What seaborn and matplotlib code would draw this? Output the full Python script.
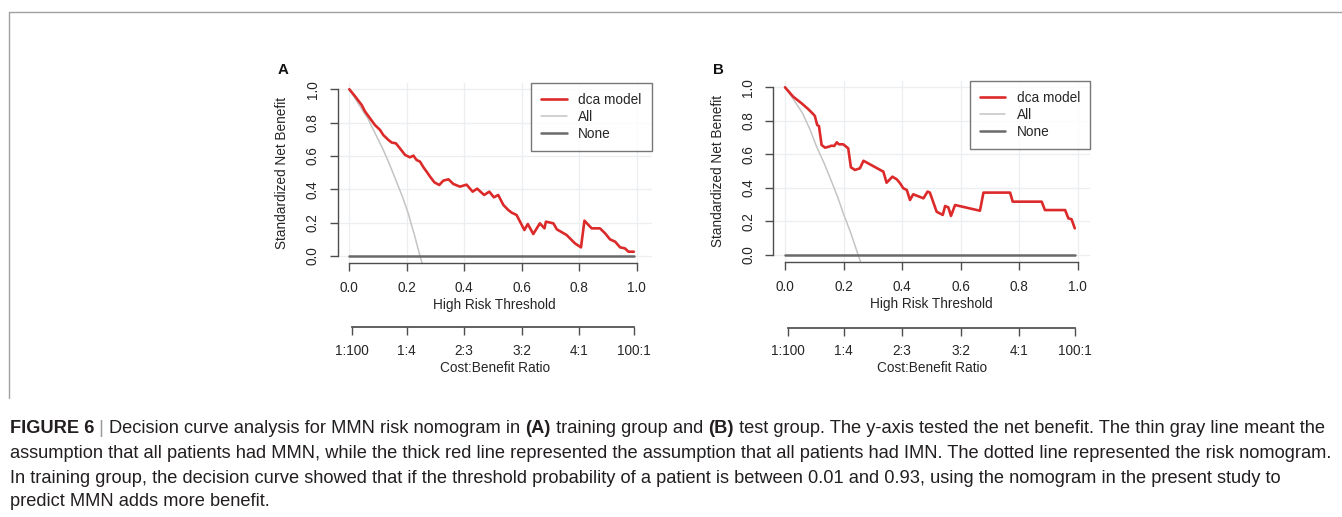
import numpy as np
import pandas as pd
import matplotlib
matplotlib.use("Agg")
import matplotlib.pyplot as plt
import seaborn as sns

# ---- data ------------------------------------------------------------------
# panel A (training group): dca model curve
thr_a = [0.000, 0.020, 0.043, 0.055, 0.072, 0.089, 0.107, 0.118, 0.136, 0.148,
         0.162, 0.176, 0.194, 0.211, 0.223, 0.234, 0.246, 0.258, 0.269, 0.281,
         0.296, 0.313, 0.327, 0.345, 0.362, 0.385, 0.408, 0.429, 0.445, 0.469,
         0.487, 0.503, 0.518, 0.536, 0.553, 0.565, 0.582, 0.594, 0.609, 0.621,
         0.640, 0.663, 0.679, 0.684, 0.710, 0.722, 0.756, 0.785, 0.806, 0.818,
         0.843, 0.872, 0.890, 0.907, 0.925, 0.942, 0.959, 0.971, 0.990]
snb_a = [1.000, 0.958, 0.906, 0.866, 0.826, 0.786, 0.756, 0.726, 0.696, 0.680,
         0.676, 0.646, 0.606, 0.592, 0.602, 0.576, 0.566, 0.532, 0.506, 0.476,
         0.442, 0.426, 0.452, 0.460, 0.432, 0.416, 0.428, 0.386, 0.404, 0.366,
         0.386, 0.352, 0.366, 0.306, 0.276, 0.260, 0.246, 0.206, 0.156, 0.192,
         0.132, 0.196, 0.166, 0.206, 0.196, 0.160, 0.126, 0.076, 0.052, 0.212,
         0.166, 0.166, 0.136, 0.100, 0.086, 0.052, 0.046, 0.026, 0.026]
# treat-all curve A
all_thr_a = [0.000, 0.020, 0.040, 0.066, 0.090, 0.116, 0.140, 0.162, 0.185,
             0.205, 0.226, 0.246, 0.256]
all_snb_a = [1.000, 0.945, 0.890, 0.820, 0.735, 0.645, 0.550, 0.455, 0.355,
             0.256, 0.130, 0.000, -0.060]

# panel B (test group): dca model curve
thr_b = [0.000, 0.028, 0.057, 0.080, 0.097, 0.102, 0.110, 0.116, 0.125, 0.137,
         0.150, 0.159, 0.168, 0.177, 0.184, 0.199, 0.216, 0.225, 0.239, 0.256,
         0.268, 0.336, 0.347, 0.367, 0.382, 0.393, 0.404, 0.416, 0.427, 0.438,
         0.473, 0.487, 0.495, 0.518, 0.539, 0.547, 0.558, 0.567, 0.581, 0.666,
         0.678, 0.769, 0.778, 0.877, 0.888, 0.957, 0.968, 0.979, 0.990]
snb_b = [1.000, 0.944, 0.904, 0.869, 0.839, 0.829, 0.775, 0.769, 0.656, 0.640,
         0.646, 0.652, 0.650, 0.672, 0.660, 0.660, 0.636, 0.523, 0.507, 0.517,
         0.562, 0.497, 0.431, 0.467, 0.451, 0.428, 0.398, 0.388, 0.328, 0.362,
         0.338, 0.378, 0.372, 0.258, 0.239, 0.292, 0.284, 0.233, 0.298, 0.264,
         0.372, 0.372, 0.318, 0.318, 0.268, 0.268, 0.219, 0.213, 0.159]
all_thr_b = [0.000, 0.030, 0.060, 0.085, 0.108, 0.133, 0.157, 0.180, 0.199,
             0.225, 0.250, 0.260]
all_snb_b = [1.000, 0.925, 0.845, 0.750, 0.646, 0.550, 0.447, 0.345, 0.249,
             0.130, 0.000, -0.050]

none_thr = [0.0, 0.99]
none_snb = [0.0, 0.0]

x_ticks = [0.0, 0.2, 0.4, 0.6, 0.8, 1.0]
y_ticks = [0.0, 0.2, 0.4, 0.6, 0.8, 1.0]
cb_labels = ["1:100", "1:4", "2:3", "3:2", "4:1", "100:1"]
cb_cost = [1, 1, 2, 3, 4, 100]
cb_benefit = [100, 4, 3, 2, 1, 1]

caption = [
    [("FIGURE 6", "bold", "#231f20"), (" | ", "normal", "#9a9a9a"),
     ("Decision curve analysis for MMN risk nomogram in ", "normal", "#231f20"),
     ("(A)", "bold", "#231f20"), (" training group and ", "normal", "#231f20"),
     ("(B)", "bold", "#231f20"),
     (" test group. The y-axis tested the net benefit. The thin gray line meant the",
      "normal", "#231f20")],
    [("assumption that all patients had MMN, while the thick red line represented the "
      "assumption that all patients had IMN. The dotted line represented the risk nomogram.",
      "normal", "#231f20")],
    [("In training group, the decision curve showed that if the threshold probability of "
      "a patient is between 0.01 and 0.93, using the nomogram in the present study to",
      "normal", "#231f20")],
    [("predict MMN adds more benefit.", "normal", "#231f20")],
]

# ---- style ------------------------------------------------------------------
sns.set_theme(style="white")
plt.rcParams["font.family"] = ["Liberation Sans", "DejaVu Sans"]

W, H = 1342, 517
fig = plt.figure(figsize=(W / 100, H / 100), dpi=100)

RED = "#dc2a2a"
AXC = "#4d4d4d"
TXT = "#262626"
FS = 9.8


def box(l, t, r, b):
    return [l / W, 1 - b / H, (r - l) / W, (b - t) / H]


def draw_panel(rect, xlim, cb_y, thr, snb, a_thr, a_snb, letter):
    ax = fig.add_axes(box(*rect))
    ax.set_xlim(*xlim)
    ax.set_ylim(-0.04, 1.04)
    for v in x_ticks:
        ax.axvline(v, color="#ebeff1", lw=0.9, zorder=0)
    for v in y_ticks:
        ax.axhline(v, color="#ebeff1", lw=0.9, zorder=0)

    sns.lineplot(x=thr, y=snb, ax=ax, color=RED, lw=1.9, sort=False,
                 estimator=None, label="dca model", zorder=4)
    sns.lineplot(x=a_thr, y=a_snb, ax=ax, color="#c4c4c4", lw=1.1, sort=False,
                 estimator=None, label="All", zorder=2)
    sns.lineplot(x=none_thr, y=none_snb, ax=ax, color="#6a6a6a", lw=1.8,
                 sort=False, estimator=None, label="None", zorder=3)

    for s in ["top", "right"]:
        ax.spines[s].set_visible(False)
    ax.spines["bottom"].set_bounds(0, 1)
    ax.spines["left"].set_bounds(0, 1)
    for s in ["bottom", "left"]:
        ax.spines[s].set_color(AXC)
        ax.spines[s].set_linewidth(1.0)
    ax.set_xticks(x_ticks)
    ax.set_xticklabels([f"{v:.1f}" for v in x_ticks])
    ax.set_yticks(y_ticks)
    ax.set_yticklabels([f"{v:.1f}" for v in y_ticks], rotation=90, va="center")
    ax.tick_params(axis="both", direction="out", length=6, width=1.0,
                   color=AXC, labelsize=FS, labelcolor=TXT, pad=7,
                   bottom=True, left=True)
    ax.set_xlabel("High Risk Threshold", fontsize=FS, color=TXT, labelpad=2)
    ax.set_ylabel("Standardized Net Benefit", fontsize=FS, color=TXT, labelpad=12)

    leg = ax.legend(loc="upper right", bbox_to_anchor=(1, 1), borderaxespad=0,
                    fontsize=FS, frameon=True, fancybox=False, handlelength=1.85,
                    handletextpad=0.85, labelspacing=0.22, borderpad=0.75)
    leg.get_frame().set_edgecolor("#555555")
    leg.get_frame().set_linewidth(1.0)
    for t in leg.get_texts():
        t.set_color(TXT)

    # cost:benefit axis
    l, t, r, b = rect
    cax = fig.add_axes(box(l, cb_y - 1, r, cb_y))
    cax.set_xlim(*xlim)
    cax.set_yticks([])
    cax.patch.set_alpha(0)
    for s in ["top", "right", "left"]:
        cax.spines[s].set_visible(False)
    pos = [c / (c + bb) for c, bb in zip(cb_cost, cb_benefit)]
    cax.spines["bottom"].set_bounds(pos[0], pos[-1])
    cax.spines["bottom"].set_color(AXC)
    cax.set_xticks(pos)
    cax.set_xticklabels(cb_labels)
    cax.tick_params(axis="x", direction="out", length=6, width=1.0, color=AXC,
                    labelsize=FS, labelcolor=TXT, pad=6, bottom=True)
    cax.set_xlabel("Cost:Benefit Ratio", fontsize=FS, color=TXT, labelpad=2)

    fig.text((l - 55) / W, 1 - 70 / H, letter, fontsize=10.8, fontweight="bold",
             ha="center", va="center", color="#111111")
    return ax


draw_panel((337.8, 82.6, 651.7, 262.7), (-0.04, 1.052), 327.3,
           thr_a, snb_a, all_thr_a, all_snb_a, "A")
draw_panel((773.3, 80.6, 1090.0, 261.7), (-0.04, 1.042), 327.7,
           thr_b, snb_b, all_thr_b, all_snb_b, "B")

# frame lines of the figure page
fig.add_artist(plt.Line2D([9 / W, 1], [1 - 12 / H, 1 - 12 / H], color="#a0a0a0",
                          lw=1.0))
fig.add_artist(plt.Line2D([9 / W, 9 / W], [1 - 12 / H, 1 - 398 / H],
                          color="#a0a0a0", lw=1.0))

# ---- caption ----------------------------------------------------------------
renderer = fig.canvas.get_renderer()


def advance(s, size, weight):
    t1 = fig.text(0, 0, "|" + s + "|", fontsize=size, fontweight=weight)
    t2 = fig.text(0, 0, "||", fontsize=size, fontweight=weight)
    w = t1.get_window_extent(renderer).width - t2.get_window_extent(renderer).width
    t1.remove()
    t2.remove()
    return w


base = 12.0
w2 = sum(advance(s, base, wt) for s, wt, _ in caption[1])
cap_fs = base * (1335 - 10) / w2
baselines = [433, 458, 483, 506]
for line, yb in zip(caption, baselines):
    x = 10.0
    for s, wt, col in line:
        fig.text(x / W, 1 - yb / H, s, fontsize=cap_fs, fontweight=wt,
                 color=col, ha="left", va="baseline")
        x += advance(s, cap_fs, wt)

fig.savefig("out.png", dpi=100)
